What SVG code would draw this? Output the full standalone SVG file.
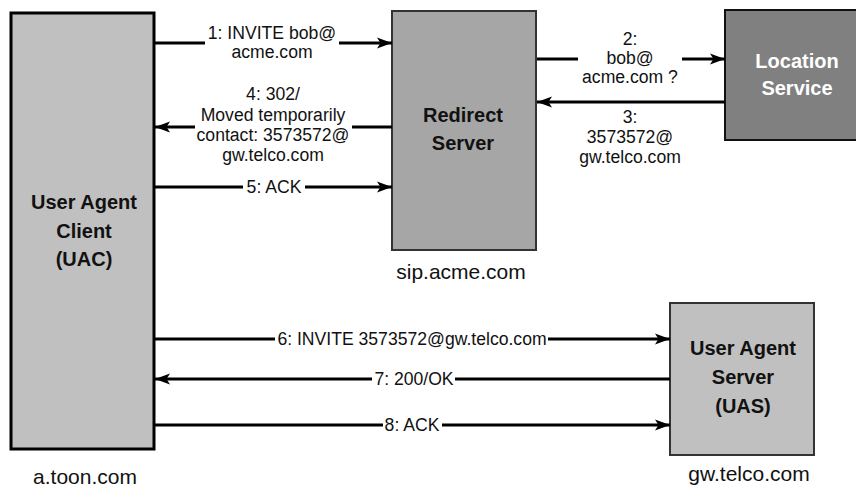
<svg xmlns="http://www.w3.org/2000/svg" width="856" height="487" viewBox="0 0 856 487">
  <style>
    .msg { font-family: "Liberation Sans", Arial, sans-serif; font-size: 17.6px; fill: #111; text-anchor: middle; }
    .node-label { font-family: "Liberation Sans", Arial, sans-serif; font-size: 20px; font-weight: bold; fill: #111; text-anchor: middle; }
    .node-label.light { fill: #fff; }
    .caption { font-family: "Liberation Sans", Arial, sans-serif; font-size: 21px; fill: #111; text-anchor: middle; }
    .line { stroke: #000; stroke-width: 3; fill: none; }
  </style>
  <defs>
    <marker id="arrow" markerUnits="userSpaceOnUse" markerWidth="16" markerHeight="12" refX="15" refY="6" orient="auto">
      <path d="M0,0.5 L15,6 L0,11.5 L3.5,6 Z" fill="#000"/>
    </marker>
  </defs>

  <rect width="856" height="487" fill="#fff"/>

  <!-- User Agent Client -->
  <g id="uac">
    <rect x="11" y="13" width="143" height="436" fill="#c0c0c0" stroke="#000" stroke-width="3"/>
    <text class="node-label" x="84" y="209">User Agent</text>
    <text class="node-label" x="84" y="238">Client</text>
    <text class="node-label" x="84" y="266">(UAC)</text>
    <text class="caption" x="85" y="484">a.toon.com</text>
  </g>

  <!-- Redirect Server -->
  <g id="redirect-server">
    <rect x="392" y="11" width="144" height="239" fill="#a6a6a6" stroke="#333" stroke-width="2"/>
    <text class="node-label" x="463" y="122">Redirect</text>
    <text class="node-label" x="463" y="150">Server</text>
    <text class="caption" x="461" y="279">sip.acme.com</text>
  </g>

  <!-- Location Service -->
  <g id="location-service">
    <rect x="725" y="10" width="146" height="130" fill="#808080" stroke="#111" stroke-width="2"/>
    <text class="node-label light" x="797" y="68">Location</text>
    <text class="node-label light" x="797" y="95">Service</text>
  </g>

  <!-- User Agent Server -->
  <g id="uas">
    <rect x="670" y="303" width="144" height="152" fill="#c0c0c0" stroke="#333" stroke-width="2"/>
    <text class="node-label" x="743" y="355">User Agent</text>
    <text class="node-label" x="743" y="384">Server</text>
    <text class="node-label" x="743" y="413">(UAS)</text>
    <text class="caption" x="749" y="481">gw.telco.com</text>
  </g>

  <!-- Message flow -->
  <g id="connectors">
    <!-- 1: INVITE -->
    <line class="line" x1="155" y1="43" x2="205" y2="43"/>
    <line class="line" x1="339" y1="43" x2="392" y2="43" marker-end="url(#arrow)"/>
    <text class="msg" x="272" y="39">1: INVITE bob@</text>
    <text class="msg" x="272" y="58">acme.com</text>

    <!-- 2: lookup -->
    <line class="line" x1="537" y1="59" x2="578" y2="59"/>
    <line class="line" x1="682" y1="59" x2="725" y2="59" marker-end="url(#arrow)"/>
    <text class="msg" x="630" y="45">2:</text>
    <text class="msg" x="630" y="64">bob@</text>
    <text class="msg" x="630" y="83">acme.com ?</text>

    <!-- 3: lookup result -->
    <line class="line" x1="725" y1="102" x2="537" y2="102" marker-end="url(#arrow)"/>
    <text class="msg" x="630" y="123">3:</text>
    <text class="msg" x="630" y="143">3573572@</text>
    <text class="msg" x="630" y="163">gw.telco.com</text>

    <!-- 4: 302 redirect -->
    <line class="line" x1="392" y1="127" x2="352" y2="127"/>
    <line class="line" x1="195" y1="127" x2="155" y2="127" marker-end="url(#arrow)"/>
    <text class="msg" x="273" y="100">4: 302/</text>
    <text class="msg" x="273" y="121">Moved temporarily</text>
    <text class="msg" x="273" y="141">contact: 3573572@</text>
    <text class="msg" x="273" y="161">gw.telco.com</text>

    <!-- 5: ACK -->
    <line class="line" x1="155" y1="187" x2="243" y2="187"/>
    <line class="line" x1="305" y1="187" x2="392" y2="187" marker-end="url(#arrow)"/>
    <text class="msg" x="274" y="193">5: ACK</text>

    <!-- 6: INVITE to UAS -->
    <line class="line" x1="155" y1="339" x2="275" y2="339"/>
    <line class="line" x1="548" y1="339" x2="670" y2="339" marker-end="url(#arrow)"/>
    <text class="msg" x="412" y="345">6: INVITE 3573572@gw.telco.com</text>

    <!-- 7: 200/OK -->
    <line class="line" x1="670" y1="379" x2="455" y2="379"/>
    <line class="line" x1="372" y1="379" x2="155" y2="379" marker-end="url(#arrow)"/>
    <text class="msg" x="414" y="385">7: 200/OK</text>

    <!-- 8: ACK -->
    <line class="line" x1="155" y1="425" x2="383" y2="425"/>
    <line class="line" x1="442" y1="425" x2="670" y2="425" marker-end="url(#arrow)"/>
    <text class="msg" x="412" y="431">8: ACK</text>
  </g>
</svg>
